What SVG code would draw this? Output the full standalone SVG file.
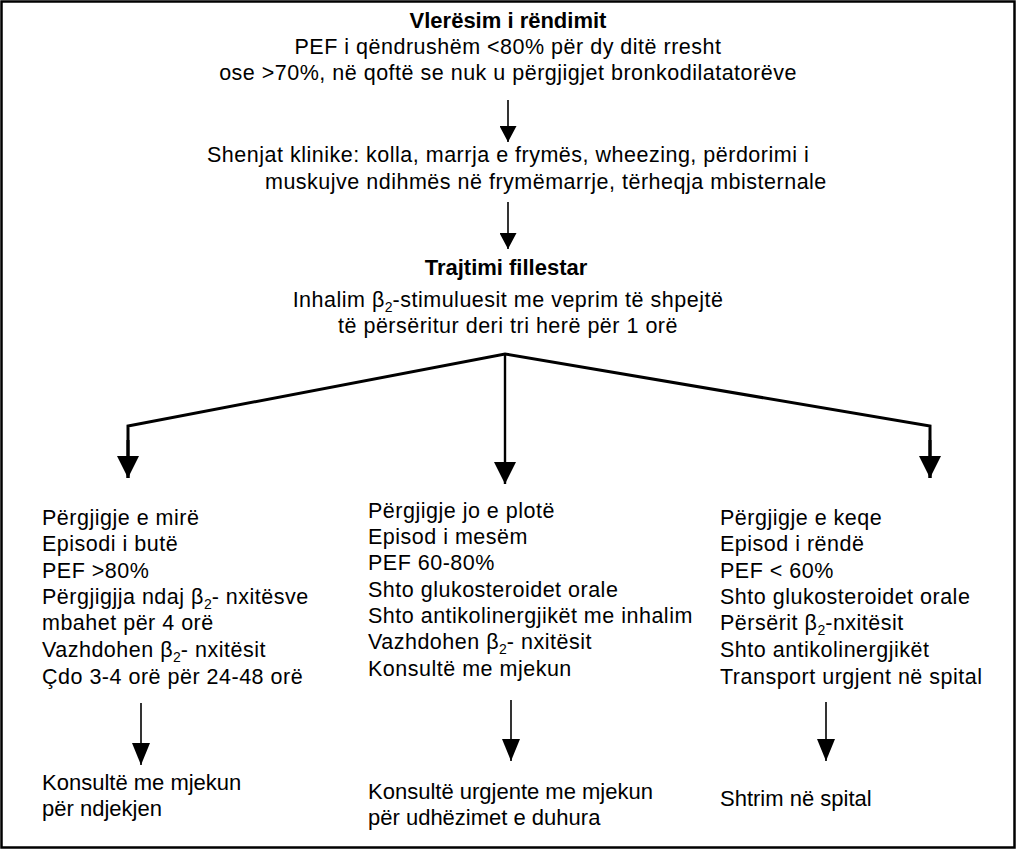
<svg xmlns="http://www.w3.org/2000/svg" width="1017" height="850" viewBox="0 0 1017 850">
<style>
text{font-family:"Liberation Sans",Arial,sans-serif;font-size:21.5px;letter-spacing:0.5px;fill:#000}
.b{font-weight:bold;font-size:22px;letter-spacing:0}
.c{text-anchor:middle}
.s{font-size:14px;letter-spacing:0}
.bt{font-size:22px;letter-spacing:0}
.ln{stroke:#000;fill:none}
.thin{stroke-width:1.6}
.thick{stroke-width:3}
</style>
<defs>
<marker id="sm" markerUnits="userSpaceOnUse" markerWidth="16" markerHeight="17" refX="16" refY="8.5" orient="auto" viewBox="0 0 16 17"><path d="M0,0 L16,8.5 L0,17 Z" fill="#000"/></marker>
<marker id="md" markerUnits="userSpaceOnUse" markerWidth="22" markerHeight="18" refX="22" refY="9" orient="auto" viewBox="0 0 22 18"><path d="M0,0 L22,9 L0,18 Z" fill="#000"/></marker>
<marker id="lg" markerUnits="userSpaceOnUse" markerWidth="22" markerHeight="22" refX="22" refY="11" orient="auto" viewBox="0 0 22 22"><path d="M0,0 L22,11 L0,22 Z" fill="#000"/></marker>
</defs>
<rect x="1.5" y="1.5" width="1013" height="846" fill="#fff" stroke="#000" stroke-width="2.5"/>
<g id="n-assess">
<text class="c b" x="508" y="28">Vlerësim i rëndimit</text>
<text class="c" x="508" y="54">PEF i qëndrushëm &lt;80% për dy ditë rresht</text>
<text class="c" x="508" y="80">ose &gt;70%, në qoftë se nuk u përgjigjet bronkodilatatorëve</text>
</g>
<g id="n-signs">
<text x="207" y="162">Shenjat klinike: kolla, marrja e frymës, wheezing, përdorimi i</text>
<text x="265" y="189">muskujve ndihmës në frymëmarrje, tërheqja mbisternale</text>
</g>
<g id="n-initial">
<text class="c b" x="506" y="275">Trajtimi fillestar</text>
<text class="c" x="508" y="307">Inhalim β<tspan class="s" dy="5">2</tspan><tspan dy="-5">-stimuluesit me veprim të shpejtë</tspan></text>
<text class="c" x="508" y="333">të përsëritur deri tri herë për 1 orë</text>
</g>
<g id="n-good">
<text x="42" y="525">Përgjigje e mirë</text>
<text x="42" y="551">Episodi i butë</text>
<text x="42" y="578">PEF &gt;80%</text>
<text x="42" y="604">Përgjigjja ndaj β<tspan class="s" dy="5">2</tspan><tspan dy="-5">- nxitësve</tspan></text>
<text x="42" y="630">mbahet për 4 orë</text>
<text x="42" y="657">Vazhdohen β<tspan class="s" dy="5">2</tspan><tspan dy="-5">- nxitësit</tspan></text>
<text x="42" y="684">Çdo 3-4 orë për 24-48 orë</text>
</g>
<g id="n-partial">
<text x="368" y="518">Përgjigje jo e plotë</text>
<text x="368" y="544">Episod i mesëm</text>
<text x="368" y="570">PEF 60-80%</text>
<text x="368" y="597">Shto glukosteroidet orale</text>
<text x="368" y="623">Shto antikolinergjikët me inhalim</text>
<text x="368" y="649">Vazhdohen β<tspan class="s" dy="5">2</tspan><tspan dy="-5">- nxitësit</tspan></text>
<text x="368" y="676">Konsultë me mjekun</text>
</g>
<g id="n-poor">
<text x="720" y="525">Përgjigje e keqe</text>
<text x="720" y="551">Episod i rëndë</text>
<text x="720" y="578">PEF &lt; 60%</text>
<text x="720" y="604">Shto glukosteroidet orale</text>
<text x="720" y="630">Përsërit β<tspan class="s" dy="5">2</tspan><tspan dy="-5">-nxitësit</tspan></text>
<text x="720" y="657">Shto antikolinergjikët</text>
<text x="720" y="684">Transport urgjent në spital</text>
</g>
<g id="n-out-good">
<text class="bt" x="42" y="790">Konsultë me mjekun</text>
<text class="bt" x="42" y="816">për ndjekjen</text>
</g>
<g id="n-out-partial">
<text class="bt" x="368" y="799">Konsultë urgjente me mjekun</text>
<text class="bt" x="368" y="825">për udhëzimet e duhura</text>
</g>
<g id="n-out-poor">
<text class="bt" x="720" y="806">Shtrim në spital</text>
</g>
<g id="connectors">
<path class="ln thin" d="M508,100 V142" marker-end="url(#sm)"/>
<path class="ln thin" d="M508,202 V249" marker-end="url(#sm)"/>
<path class="ln thick" d="M128,478 V426 L505,354 L930,426 V478"/>
<path class="ln thick" d="M128,440 V478" marker-end="url(#lg)"/>
<path class="ln thick" d="M930,440 V478" marker-end="url(#lg)"/>
<path class="ln" stroke-width="2.4" d="M505,354 V484" marker-end="url(#lg)"/>
<path class="ln thin" d="M141,703 V765" marker-end="url(#md)"/>
<path class="ln thin" d="M511,700 V761" marker-end="url(#md)"/>
<path class="ln thin" d="M826,702 V761" marker-end="url(#md)"/>
</g>
</svg>
